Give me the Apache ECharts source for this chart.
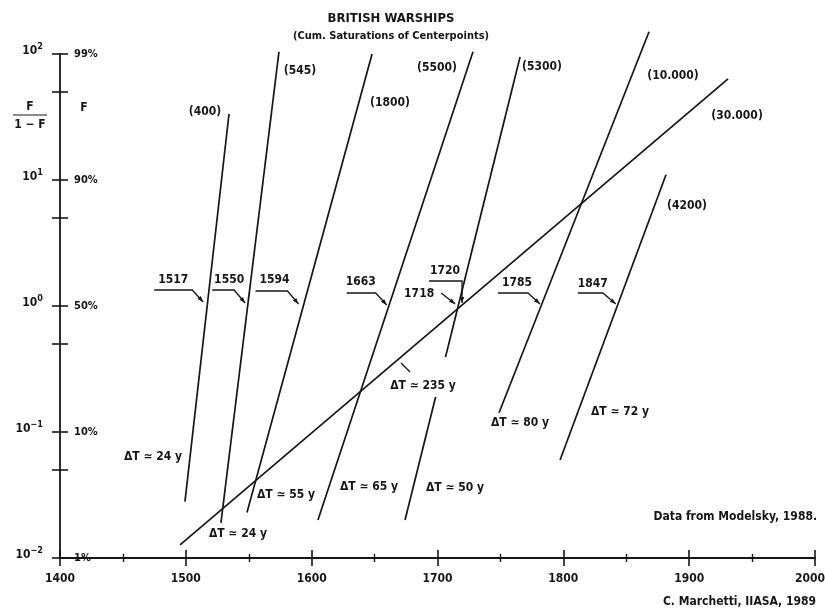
<!DOCTYPE html>
<html>
<head>
<meta charset="utf-8">
<script src="https://cdn.jsdelivr.net/npm/echarts@6/dist/echarts.min.js"></script>
<style>html,body{margin:0;padding:0;background:#fff}#c{width:825px;height:610px}</style>
</head>
<body>
<div id="c"></div>
<script>
// ---------------- data ----------------
const xTickValues = [1400, 1500, 1600, 1700, 1800, 1900, 2000];
const yTickValues = [0.01, 0.1, 1, 10, 100];
const yMinorTickValues = [0.05, 0.5, 5, 50];
const yPercentLabels = ['1%', '10%', '50%', '90%', '99%'];

const lineNames  = ['(400)', '(545)', '(1800)', '(5500)', '(5300)', '(10.000)', '(30.000)', '(4200)'];
const startYear  = [1499.3, 1527.9, 1548.6, 1605.0, 1674.2, 1748.9, 1495.4, 1797.4];
const startValue = [0.028, 0.019, 0.023, 0.020, 0.020, 0.142, 0.0127, 0.060];
const endYear    = [1534.3, 1574.0, 1648.0, 1728.2, 1765.6, 1868.1, 1930.9, 1881.6];
const endValue   = [33.4, 104, 100, 104, 94.6, 150, 63.4, 11.0];
const deltaT     = ['ΔT ≃ 24 y', 'ΔT ≃ 24 y', 'ΔT ≃ 55 y', 'ΔT ≃ 65 y', 'ΔT ≃ 50 y', 'ΔT ≃ 80 y', 'ΔT ≃ 235 y', 'ΔT ≃ 72 y'];

const centerLabels = ['1517', '1550', '1594', '1663', '1720', '1718', '1785', '1847'];
const centerYears  = [1517, 1549.5, 1593.5, 1662, 1719.5, 1718, 1783, 1843.3];
const centerValue  = 1;

// ---------------- layout / styles ----------------
const INK = '#161616';
const FONT = "'Liberation Sans Narrow','DejaVu Sans Condensed','Liberation Sans',Arial,sans-serif";
const fontOf = (size) => 'bold ' + size + 'px ' + FONT;

// pixel offsets of the name labels from each line's top end
const nameOffsets = [[-24, -2], [21, 19], [18, 49], [-36, 16], [22, 10], [24, 44], [9, 37], [21, 31]];
// pixel offsets of the ΔT labels from each line's bottom end
const dtOffsets = [[-32, -45], [17, 11], [39, -18], [51, -33], [50, -32], [21, 10], [243, -159], [60, -48]];
// callout geometry relative to the centre point
const calloutShapes = [
  { start: [-53, -16], elbow: [-15, -16], tip: [-4, -4], text: [-49, -26], align: 'left' },
  { start: [-36, -16], elbow: [-14, -16], tip: [-3, -3], text: [-34, -26], align: 'left' },
  { start: [-48, -15], elbow: [-16, -15], tip: [-5, -2], text: [-44, -26], align: 'left' },
  { start: [-43, -13], elbow: [-14, -13], tip: [-3, -1], text: [-44, -24], align: 'left' },
  { start: [-33, -25], elbow: [0, -25], tip: [0, -3], text: [-32, -35], align: 'left' },
  { start: null, elbow: [-19, -13], tip: [-5, -2], text: [-26, -12], align: 'right' },
  { start: [-44, -13], elbow: [-14, -13], tip: [-2, -2], text: [-40, -23], align: 'left' },
  { start: [-40, -13], elbow: [-15, -13], tip: [-2, -2], text: [-40, -22], align: 'left' }
];

function txt(x, y, text, size, align, vAlign) {
  return {
    type: 'text', x: x, y: y, silent: true,
    style: { text: text, fill: INK, font: fontOf(size), align: align, verticalAlign: vAlign || 'middle',
             textAlign: align, textVerticalAlign: vAlign || 'middle' }
  };
}

function arrowHead(from, to) {
  const dx = to[0] - from[0], dy = to[1] - from[1];
  const len = Math.sqrt(dx * dx + dy * dy) || 1;
  const ux = dx / len, uy = dy / len;
  const L = 6, W = 2.2;
  const bx = to[0] - ux * L, by = to[1] - uy * L;
  return {
    type: 'polygon', silent: true,
    shape: { points: [[to[0], to[1]], [bx - uy * W, by + ux * W], [bx + uy * W, by - ux * W]] },
    style: { fill: INK }
  };
}

// ---------------- series ----------------
const lineSeries = lineNames.map((name, i) => ({
  type: 'line',
  name: name,
  data: [[startYear[i], startValue[i]], [endYear[i], endValue[i]]],
  symbol: 'none',
  clip: false,
  z: 2,
  silent: true,
  lineStyle: { color: INK, width: 1.7 },
  animation: false
}));

const nameSeries = {
  type: 'custom', coordinateSystem: 'cartesian2d', clip: false, z: 6, silent: true, animation: false,
  encode: { x: 0, y: 1 },
  data: lineNames.map((n, i) => [endYear[i], endValue[i], i]),
  renderItem: function (params, api) {
    const i = api.value(2);
    const p = api.coord([api.value(0), api.value(1)]);
    const o = nameOffsets[i];
    return txt(p[0] + o[0], p[1] + o[1], lineNames[i], 12, 'center');
  }
};

const dtSeries = {
  type: 'custom', coordinateSystem: 'cartesian2d', clip: false, z: 6, silent: true, animation: false,
  encode: { x: 0, y: 1 },
  data: lineNames.map((n, i) => [startYear[i], startValue[i], i]),
  renderItem: function (params, api) {
    const i = api.value(2);
    const p = api.coord([api.value(0), api.value(1)]);
    const o = dtOffsets[i];
    const cx = p[0] + o[0], cy = p[1] + o[1];
    const children = [];
    if (i === 6) {
      // white gap cut in the (5300) line behind this label, and the pointer stroke
      children.push({ type: 'rect', silent: true, shape: { x: cx + 8, y: cy - 29, width: 19, height: 40 }, style: { fill: '#fff' } });
      children.push({ type: 'line', silent: true, shape: { x1: cx - 22, y1: cy - 23, x2: cx - 13, y2: cy - 14 }, style: { stroke: INK, lineWidth: 1.3 } });
    }
    children.push(txt(cx, cy, deltaT[i], 12, 'center'));
    return { type: 'group', children: children };
  }
};

const calloutSeries = {
  type: 'custom', coordinateSystem: 'cartesian2d', clip: false, z: 7, silent: true, animation: false,
  encode: { x: 0, y: 1 },
  data: centerLabels.map((l, i) => [centerYears[i], centerValue, i]),
  renderItem: function (params, api) {
    const i = api.value(2);
    const p = api.coord([api.value(0), api.value(1)]);
    const s = calloutShapes[i];
    const at = (o) => [p[0] + o[0], p[1] + o[1]];
    const pts = [];
    if (s.start) pts.push(at(s.start));
    pts.push(at(s.elbow));
    pts.push(at(s.tip));
    return {
      type: 'group',
      children: [
        { type: 'polyline', silent: true, shape: { points: pts }, style: { stroke: INK, lineWidth: 1.3, fill: null } },
        arrowHead(at(s.elbow), at(s.tip)),
        txt(p[0] + s.text[0], p[1] + s.text[1], centerLabels[i], 12, s.align)
      ]
    };
  }
};

// ---------------- axes ----------------
const supMinus = (e) => (e < 0 ? '−' + (-e) : String(e));
const axisLineStyle = { color: INK, width: 1.8 };
const lastX = xTickValues[xTickValues.length - 1];

const option = {
  animation: false,
  backgroundColor: '#fff',
  grid: { left: 60, right: 10, top: 54, bottom: 52, containLabel: false, outerBoundsMode: 'none' },
  xAxis: [
    {
      type: 'value', min: 1400, max: 2000, interval: 100, position: 'bottom',
      axisLine: { show: true, lineStyle: axisLineStyle },
      axisTick: { show: true, inside: false, length: 8, lineStyle: { color: INK, width: 1.6 } },
      minorTick: { show: true, splitNumber: 2, length: 4, lineStyle: { color: INK, width: 1.4 } },
      splitLine: { show: false },
      axisLabel: {
        show: true, margin: 15, color: INK, fontSize: 12, fontWeight: 'bold', fontFamily: FONT,
        customValues: xTickValues, hideOverlap: false,
        formatter: (v) => (v === lastX ? '{r|' + v + '}' : String(v)),
        rich: { r: { fontSize: 12, fontWeight: 'bold', fontFamily: FONT, color: INK, padding: [0, 10, 0, 0] } }
      }
    },
    {
      type: 'value', min: 1400, max: 2000, interval: 100, position: 'bottom',
      axisLine: { show: false },
      axisTick: { show: true, inside: true, length: 8, lineStyle: { color: INK, width: 1.6 } },
      minorTick: { show: true, splitNumber: 2, length: 4, lineStyle: { color: INK, width: 1.4 } },
      splitLine: { show: false },
      axisLabel: { show: false }
    }
  ],
  yAxis: [
    {
      type: 'log', logBase: 10, min: 0.01, max: 100, position: 'left',
      axisLine: { show: true, lineStyle: axisLineStyle },
      axisTick: { show: true, inside: false, length: 8, lineStyle: { color: INK, width: 1.6 },
                  customValues: yTickValues.concat(yMinorTickValues) },
      minorTick: { show: false },
      splitLine: { show: false },
      axisLabel: {
        show: true, margin: 17, color: INK, customValues: yTickValues,
        padding: [0, 0, 6, 0],
        formatter: (v) => '{b|10}{s|' + supMinus(Math.round(Math.log10(v))) + '}',
        rich: {
          b: { fontSize: 12, fontWeight: 'bold', fontFamily: FONT, color: INK },
          s: { fontSize: 9, fontWeight: 'bold', fontFamily: FONT, color: INK, padding: [0, 0, 9, 0] }
        }
      }
    },
    {
      type: 'log', logBase: 10, min: 0.01, max: 100, position: 'left',
      axisLine: { show: false },
      axisTick: { show: true, inside: true, length: 8, lineStyle: { color: INK, width: 1.6 },
                  customValues: yTickValues.concat(yMinorTickValues) },
      minorTick: { show: false },
      splitLine: { show: false },
      axisLabel: {
        show: true, inside: true, margin: 14, color: INK, customValues: yTickValues,
        fontSize: 11, fontWeight: 'bold', fontFamily: FONT, padding: [0, 0, 6, 0],
        formatter: (v) => yPercentLabels[Math.round(Math.log10(v)) + 2]
      }
    }
  ],
  graphic: [
    txt(391, 19, 'BRITISH WARSHIPS', 13, 'center'),
    txt(391, 36, '(Cum. Saturations of Centerpoints)', 11, 'center'),
    txt(30, 107, 'F', 12, 'center'),
    { type: 'line', silent: true, shape: { x1: 13, y1: 115, x2: 47, y2: 115 }, style: { stroke: INK, lineWidth: 1.2 } },
    txt(30, 125, '1 − F', 12, 'center'),
    txt(84, 108, 'F', 12, 'center'),
    txt(817, 517, 'Data from Modelsky, 1988.', 12, 'right'),
    txt(816, 602, 'C. Marchetti, IIASA, 1989', 12, 'right')
  ],
  series: lineSeries.concat([dtSeries, nameSeries, calloutSeries])
};

const chart = echarts.init(document.getElementById('c'), null, { renderer: 'canvas' });
chart.setOption(option);
</script>
</body>
</html>
